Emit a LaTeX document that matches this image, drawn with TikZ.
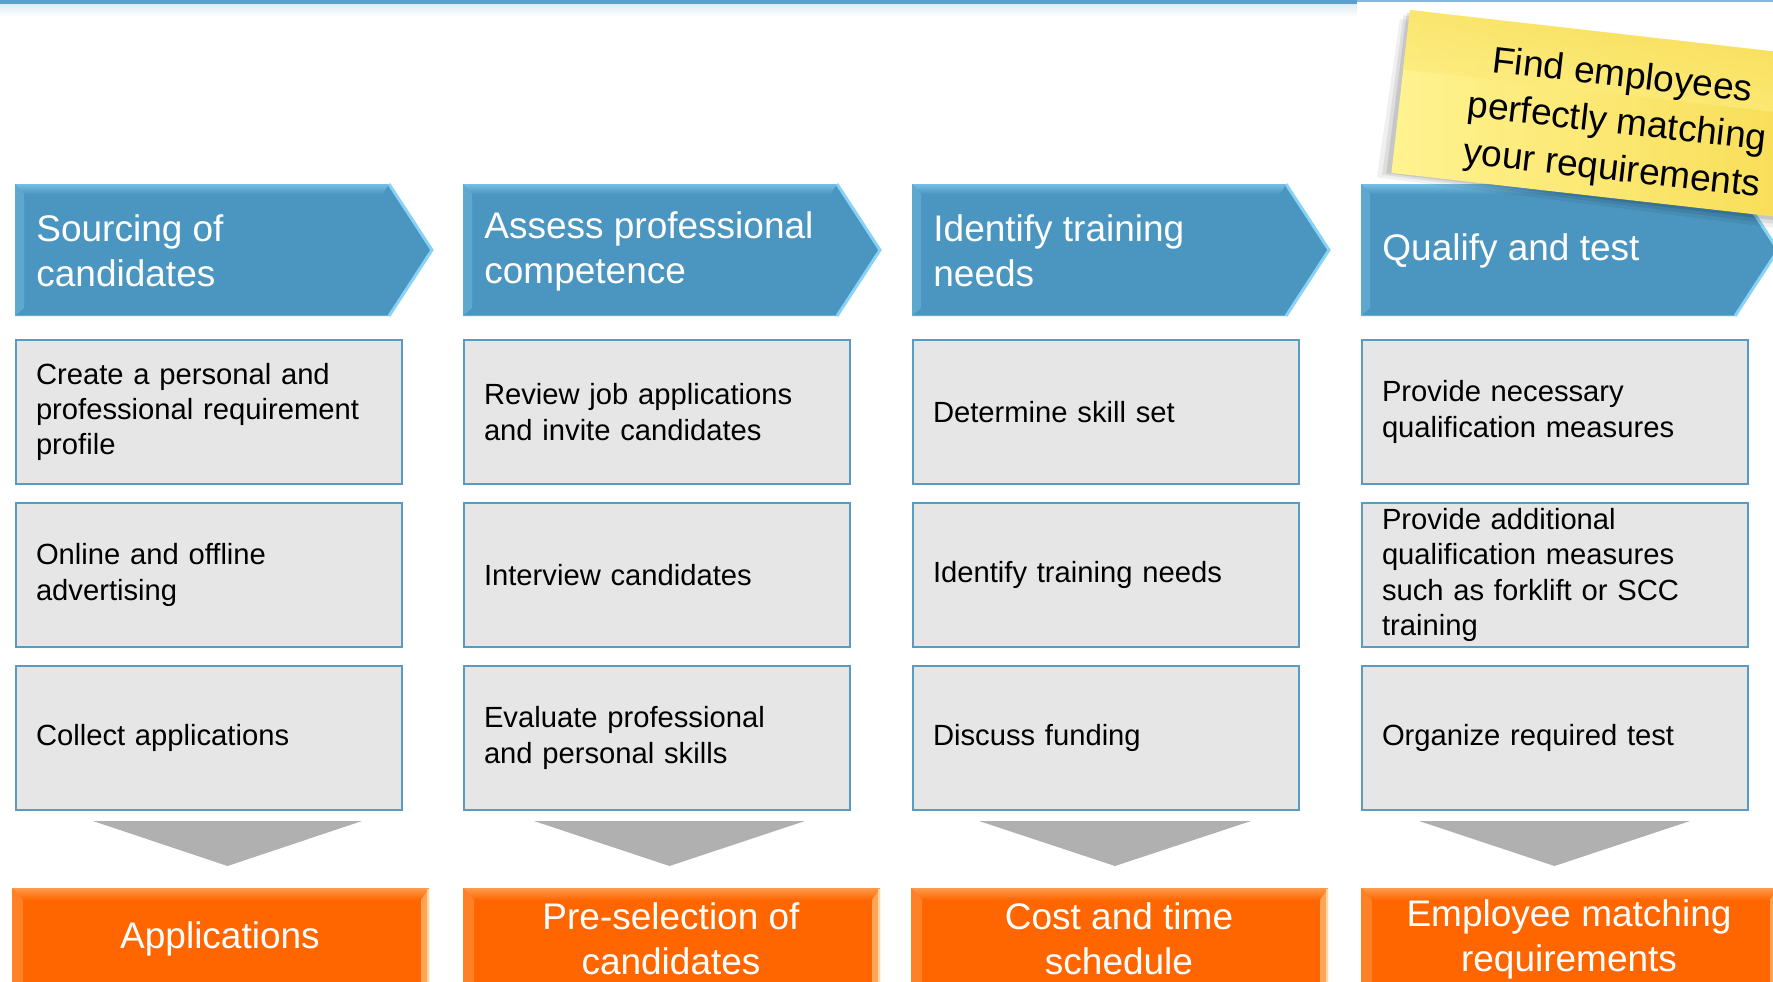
\documentclass[tikz,border=0pt]{standalone}
\usepackage{fontspec}
\setmainfont{Liberation Sans}
\usetikzlibrary{calc}
\definecolor{chevblue}{RGB}{75,150,192}
\definecolor{chevlight}{RGB}{118,190,228}
\definecolor{chevedge}{RGB}{135,210,245}
\definecolor{boxfill}{RGB}{230,230,230}
\definecolor{boxline}{RGB}{90,155,195}
\definecolor{trigray}{RGB}{176,176,176}
\definecolor{orangemain}{RGB}{255,102,0}
\definecolor{orangelight}{RGB}{255,155,75}
\definecolor{orangeedge}{RGB}{255,215,160}
\definecolor{noteA}{RGB}{255,243,145}
\definecolor{noteB}{RGB}{247,218,78}
\definecolor{topbar}{RGB}{91,160,205}
\tikzset{
  headtext/.style={text=white, font=\fontsize{18.5pt}{22.5pt}\selectfont, align=left, anchor=west, inner sep=0pt},
  stepbox/.style={draw=boxline, line width=1pt, fill=boxfill, minimum width=193pt, minimum height=72pt,
    text width=173pt, inner xsep=10pt, inner ysep=0pt, align=left, anchor=north west,
    font=\fontsize{14.6pt}{17.6pt}\selectfont, text=black},
  resultbox/.style={fill=orangemain, minimum width=208.5pt, minimum height=50pt, anchor=north west, inner sep=0pt},
  resulttext/.style={text=white, font=\fontsize{18.5pt}{22.5pt}\selectfont, align=center, inner sep=0pt},
  notetext/.style={text=black, font=\fontsize{18.5pt}{23.5pt}\selectfont, align=center, inner sep=0pt, rotate=-6.5},
  downtri/.style={fill=trigray}
}
\begin{document}
\begin{tikzpicture}[x=0.5pt,y=-0.5pt]
\useasboundingbox (0,0) rectangle (1773,981);
\clip (0,0) rectangle (1773,981);
\begin{scope}[overlay]
% top bar
\shade[top color=topbar!22, bottom color=white] (0,3) rectangle (1357,17);
\fill[topbar] (0,0) rectangle (1357,3.5);
\fill[topbar!75] (1357,0) rectangle (1773,1.8);

% chevrons
\foreach \L/\n/\t in {15/h1/{Sourcing of\\candidates}, 463/h2/{Assess professional\\competence}, 912/h3/{Identify training\\needs}, 1361/h4/{Qualify and test}} {
  \fill[chevblue] (\L,184) -- (\L+374,184) -- (\L+417,250) -- (\L+374,316) -- (\L,316) -- cycle;
  \shade[top color=chevlight, bottom color=chevblue] (\L,184) -- (\L+374,184) -- (\L+368,194) -- (\L+9,194) -- cycle;
  \fill[chevlight!45!chevblue] (\L,184) -- (\L+9,194) -- (\L+9,308) -- (\L,316) -- cycle;
  \draw[chevlight!60!chevblue, line width=0.8pt] (\L,315.5) -- (\L+374,315.5);
  \draw[chevedge, line width=1.5pt] (\L+374,184) -- (\L+417,250) -- (\L+374,316);
  \node[headtext] (\n) at (\L+21,251) {\t};
}

% step boxes
\node[stepbox] (b11) at (15,339) {Create a personal and\\professional requirement\\profile};
\node[stepbox] (b12) at (15,502) {Online and offline\\advertising};
\node[stepbox] (b13) at (15,665) {Collect applications};
\node[stepbox] (b21) at (463,339) {Review job applications\\and invite candidates};
\node[stepbox] (b22) at (463,502) {Interview candidates};
\node[stepbox] (b23) at (463,665) {Evaluate professional\\and personal skills};
\node[stepbox] (b31) at (912,339) {Determine skill set};
\node[stepbox] (b32) at (912,502) {Identify training needs};
\node[stepbox] (b33) at (912,665) {Discuss funding};
\node[stepbox] (b41) at (1361,339) {Provide necessary\\qualification measures};
\node[stepbox] (b42) at (1361,502) {Provide additional\\qualification measures\\such as forklift or SCC\\training};
\node[stepbox] (b43) at (1361,665) {Organize required test};

% down triangles
\foreach \a/\b in {93/362, 534/805, 979/1251, 1419/1690} {
  \fill[downtri] (\a,821) -- (\b,821) -- ({(\a+\b)/2},866) -- cycle;
}

% result boxes
\foreach \L/\n/\t in {12/r1/{Applications}, 463/r2/{Pre-selection of\\candidates}, 911/r3/{Cost and time\\schedule}, 1361/r4/{Employee matching\\requirements}} {
  \node[resultbox] (\n box) at (\L,888) {};
  \shade[top color=orangelight, bottom color=orangemain] (\L,888) -- (\L+417,888) -- (\L+409,900) -- (\L+11,900) -- cycle;
  \fill[orangelight!50!orangemain] (\L,888) -- (\L+11,900) -- (\L+11,990) -- (\L,990) -- cycle;
  \fill[orangeedge!55!orangemain] (\L+417,888) -- (\L+409,900) -- (\L+409,990) -- (\L+417,990) -- cycle;
  \draw[orangeedge, line width=0.8pt] (\L+416,889) -- (\L+416,990);
  \node[resulttext] (\n) at (\L+208,939) {\t};
}

% sticky note
\begin{scope}[shift={(1410,10)}, rotate=-6.5]
  \fill[black, opacity=0.06] (-9,10) -- (445,14) -- (445,176) -- (-14,170) -- cycle;
  \fill[black, opacity=0.08] (-6,6) -- (445,10) -- (445,172) -- (-9,167) -- cycle;
  \fill[black, opacity=0.10] (-3,3) -- (445,6) -- (445,168) -- (-5,165) -- cycle;
  \shade[left color=noteA, right color=noteB] (0,0) rectangle (445,164);
  \shade[top color=noteB, bottom color=noteA, opacity=0.5] (0,0) rectangle (445,60);
\end{scope}
\node[notetext] (note) at (1617,124) {Find employees\\perfectly matching\\your requirements};
\end{scope}
\end{tikzpicture}
\end{document}
